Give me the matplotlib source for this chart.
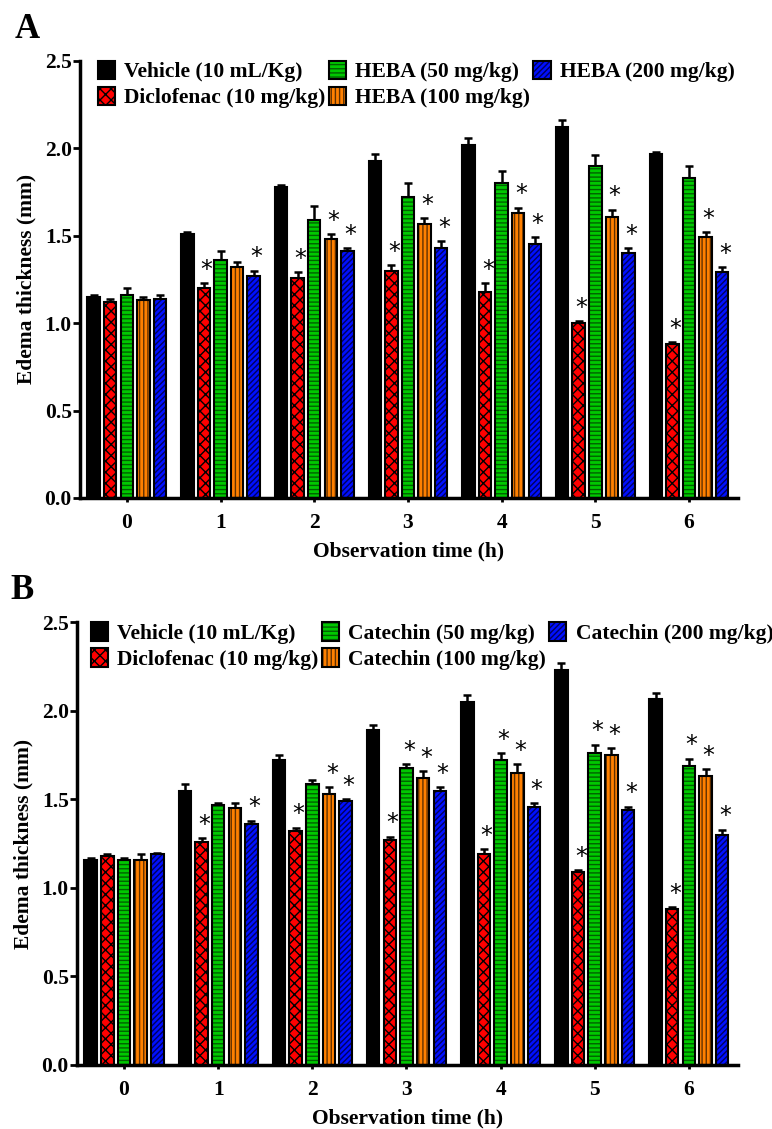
"""Paw edema thickness over time - HEBA (A) and catechin (B) vs vehicle and diclofenac."""

import numpy as np
import matplotlib.pyplot as plt
from matplotlib.legend_handler import HandlerTuple

plt.rcParams["font.family"] = ["Liberation Serif", "DejaVu Serif"]
plt.rcParams["font.weight"] = "bold"
plt.rcParams["axes.labelweight"] = "bold"
plt.rcParams["hatch.linewidth"] = 1.0

TIMES = [0, 1, 2, 3, 4, 5, 6]

LABELS_A = ["Vehicle (10 mL/Kg)", "Diclofenac (10 mg/kg)", "HEBA (50 mg/kg)",
            "HEBA (100 mg/kg)", "HEBA (200 mg/kg)"]
LABELS_B = ["Vehicle (10 mL/Kg)", "Diclofenac (10 mg/kg)", "Catechin (50 mg/kg)",
            "Catechin (100 mg/kg)", "Catechin (200 mg/kg)"]

# panel A means / SEM, one list per group
vehicle_a = [1.15, 1.51, 1.78, 1.93, 2.02, 2.12, 1.97]
vehicle_a_err = [0.01, 0.01, 0.01, 0.04, 0.04, 0.04, 0.01]
diclo_a = [1.12, 1.20, 1.26, 1.30, 1.18, 1.00, 0.88]
diclo_a_err = [0.02, 0.03, 0.03, 0.03, 0.05, 0.01, 0.01]
heba50 = [1.16, 1.36, 1.59, 1.72, 1.80, 1.90, 1.83]
heba50_err = [0.04, 0.05, 0.08, 0.08, 0.07, 0.06, 0.07]
heba100 = [1.13, 1.32, 1.48, 1.57, 1.63, 1.61, 1.49]
heba100_err = [0.02, 0.03, 0.03, 0.03, 0.03, 0.04, 0.03]
heba200 = [1.14, 1.27, 1.41, 1.43, 1.45, 1.40, 1.29]
heba200_err = [0.02, 0.03, 0.02, 0.04, 0.04, 0.03, 0.03]

# panel B
vehicle_b = [1.16, 1.55, 1.72, 1.89, 2.05, 2.23, 2.07]
vehicle_b_err = [0.01, 0.04, 0.03, 0.03, 0.04, 0.04, 0.03]
diclo_b = [1.18, 1.26, 1.32, 1.27, 1.19, 1.09, 0.88]
diclo_b_err = [0.01, 0.02, 0.02, 0.02, 0.03, 0.01, 0.01]
cat50 = [1.16, 1.47, 1.59, 1.68, 1.72, 1.76, 1.69]
cat50_err = [0.01, 0.01, 0.02, 0.02, 0.04, 0.05, 0.04]
cat100 = [1.16, 1.45, 1.53, 1.62, 1.65, 1.75, 1.63]
cat100_err = [0.03, 0.03, 0.04, 0.04, 0.05, 0.04, 0.04]
cat200 = [1.19, 1.36, 1.49, 1.55, 1.46, 1.44, 1.30]
cat200_err = [0.01, 0.02, 0.01, 0.02, 0.02, 0.02, 0.03]

# significance flags (1 = asterisk)
sig_a = [
    [0, 0, 0, 0, 0, 0, 0],
    [0, 1, 1, 1, 1, 1, 1],
    [0, 0, 0, 0, 0, 0, 0],
    [0, 0, 1, 1, 1, 1, 1],
    [0, 1, 1, 1, 1, 1, 1],
]
sig_b = [
    [0, 0, 0, 0, 0, 0, 0],
    [0, 1, 1, 1, 1, 1, 1],
    [0, 0, 0, 1, 1, 1, 1],
    [0, 0, 1, 1, 1, 1, 1],
    [0, 1, 1, 1, 1, 1, 1],
]

# face colour, hatch, hatch colour
STYLES = [
    ("#000000", None, "#000000"),
    ("#ff0000", "xxx", "#000000"),
    ("#00c800", "----", "#006000"),
    ("#ff8000", "||||", "#603000"),
    ("#0010ff", "//////", "#000060"),
]

STEP = 0.177
WIDTH = 0.133


def draw_panel(ax, means, errs, sigs, labels, letter, legend_x):
    x = np.array(TIMES, dtype=float)
    handles = []
    for i, (m, e, s) in enumerate(zip(means, errs, sigs)):
        face, hatch, hcol = STYLES[i]
        pos = x + (i - 2) * STEP
        filled = ax.bar(pos, m, WIDTH, color=face, edgecolor=hcol, hatch=hatch,
                        linewidth=0, zorder=2)
        edge = ax.bar(pos, m, WIDTH, fill=False, edgecolor="black", linewidth=1.5,
                      zorder=3)
        ax.errorbar(pos, m, yerr=[np.zeros(len(m)), e], fmt="none", ecolor="black",
                    elinewidth=1.8, capsize=3, capthick=1.8, zorder=1)
        for p, v, ev, flag in zip(pos, m, e, s):
            if flag:
                ax.annotate("*", (p, v + ev), xytext=(2, 1), textcoords="offset points",
                            ha="center", va="bottom", fontsize=17, fontweight="normal",
                            family="DejaVu Sans", zorder=4)
        handles.append((filled[0], edge[0]))

    ax.set_xlim(-0.5, 6.52)
    ax.set_ylim(0, 2.5)
    ax.set_yticks(np.arange(0, 2.51, 0.5))
    ax.yaxis.set_major_formatter(plt.FormatStrFormatter("%.1f"))
    ax.set_xticks(TIMES)
    ax.tick_params(axis="y", length=5, width=2, labelsize=15.5, pad=1)
    ax.tick_params(axis="x", length=3, width=2, labelsize=15.5, pad=8)
    for side in ("top", "right"):
        ax.spines[side].set_visible(False)
    for side in ("left", "bottom"):
        ax.spines[side].set_linewidth(2.5)
    ax.set_ylabel("Edema thickness (mm)", fontsize=15.5, labelpad=6)
    ax.set_xlabel("Observation time (h)", fontsize=15.5, labelpad=6)

    ax.legend(handles, labels, handler_map={tuple: HandlerTuple(ndivide=1)},
              ncol=3, loc="upper left", bbox_to_anchor=(legend_x, 1.025),
              frameon=False, fontsize=15.5, handlelength=0.8, handleheight=0.95,
              handletextpad=0.42, columnspacing=0.15, borderpad=0, labelspacing=0.2)
    ax.text(-0.1, 1.035, letter, transform=ax.transAxes, fontsize=25,
            fontweight="bold", ha="left", va="bottom")


fig = plt.figure(figsize=(7.72, 11.29), dpi=100)
ax_a = fig.add_axes([0.1036, 0.559, 0.852, 0.387])
ax_b = fig.add_axes([0.0997, 0.0567, 0.856, 0.392])

draw_panel(ax_a, [vehicle_a, diclo_a, heba50, heba100, heba200],
           [vehicle_a_err, diclo_a_err, heba50_err, heba100_err, heba200_err],
           sig_a, LABELS_A, "A", 0.011)
draw_panel(ax_b, [vehicle_b, diclo_b, cat50, cat100, cat200],
           [vehicle_b_err, diclo_b_err, cat50_err, cat100_err, cat200_err],
           sig_b, LABELS_B, "B", 0.005)

fig.savefig("out.png", dpi=100)
